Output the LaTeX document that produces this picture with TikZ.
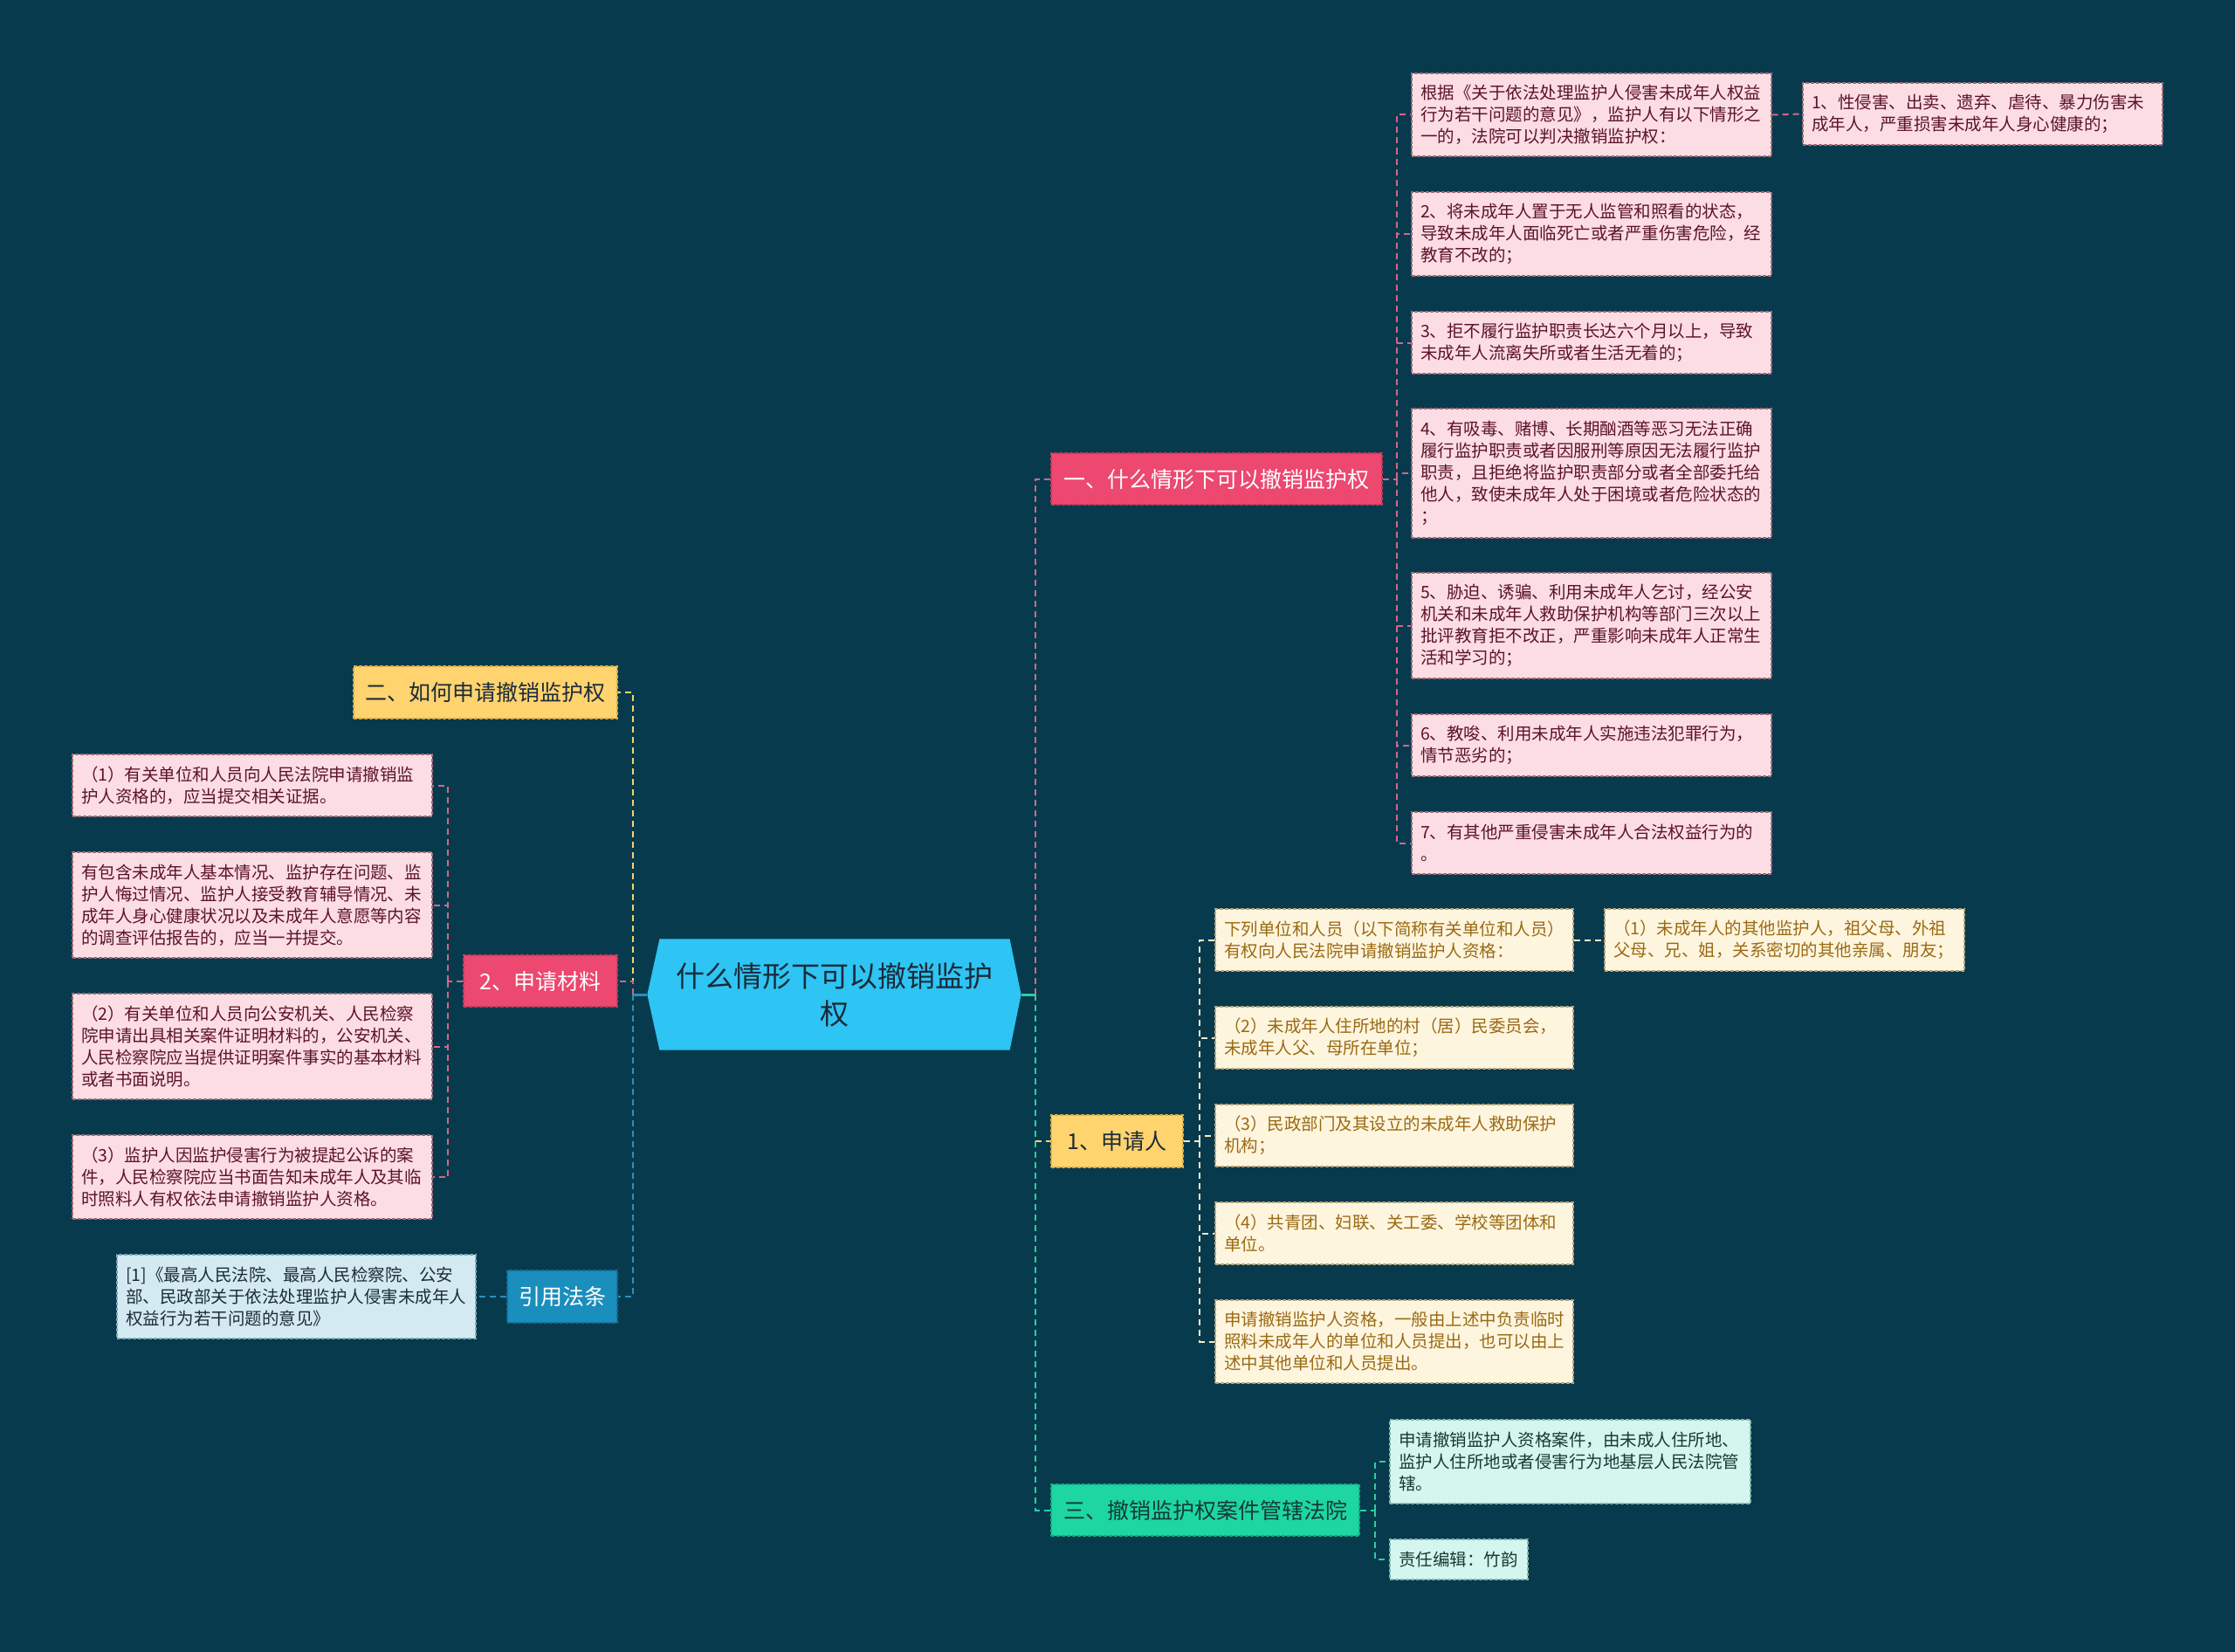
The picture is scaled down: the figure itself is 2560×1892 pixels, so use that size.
\documentclass[tikz,border=0pt]{standalone}
\usepackage{fontspec}
\newfontfamily\cjk{Noto Sans CJK SC}
\usetikzlibrary{calc,backgrounds}
\definecolor{bg}{HTML}{083A4D}
\definecolor{rootc}{HTML}{2EC4F3}
\definecolor{rootT}{HTML}{1B2B3A}
\definecolor{pkMain}{HTML}{EC4870}
\definecolor{pkMainB}{HTML}{C23A5C}
\definecolor{ylMain}{HTML}{FFD36E}
\definecolor{ylMainB}{HTML}{D6AC48}
\definecolor{grMain}{HTML}{1DD6A2}
\definecolor{grMainB}{HTML}{16A981}
\definecolor{blMain}{HTML}{1A8EBC}
\definecolor{blMainB}{HTML}{136E92}
\definecolor{pkL}{HTML}{FCDDE3}
\definecolor{pkLb}{HTML}{9E6B78}
\definecolor{pkT}{HTML}{5C1428}
\definecolor{ylL}{HTML}{FEF5DF}
\definecolor{ylLb}{HTML}{B5A47A}
\definecolor{ylT}{HTML}{9A6A12}
\definecolor{grL}{HTML}{D4F6EE}
\definecolor{grLb}{HTML}{7FB8A8}
\definecolor{grT}{HTML}{163A33}
\definecolor{blL}{HTML}{D4EAF2}
\definecolor{blLb}{HTML}{7EA8B8}
\definecolor{blT}{HTML}{1C2C38}
\definecolor{pkLine}{HTML}{D4668A}
\definecolor{ylLine}{HTML}{F2D56E}
\definecolor{ylLeafLine}{HTML}{F5EBC8}
\definecolor{grLine}{HTML}{2ACF9F}
\definecolor{blLine}{HTML}{2C8EBB}
\tikzset{
  box/.style={rectangle, inner sep=0pt, line width=1.2pt, dash pattern=on 4pt off 2pt},
  leaf/.style={box, inner xsep=10pt, align=left, font=\cjk\fontsize{19.5}{25}\selectfont},
  pinkleaf/.style={leaf, fill=pkL, draw=pkLb, text=pkT},
  yellowleaf/.style={leaf, fill=ylL, draw=ylLb, text=ylT},
  greenleaf/.style={leaf, fill=grL, draw=grLb, text=grT},
  blueleaf/.style={leaf, fill=blL, draw=blLb, text=blT},
  mainbox/.style={box, font=\cjk\fontsize{25}{30}\selectfont, align=center},
  pinkmain/.style={mainbox, fill=pkMain, draw=pkMainB, text=white},
  yellowmain/.style={mainbox, fill=ylMain, draw=ylMainB, text=rootT},
  greenmain/.style={mainbox, fill=grMain, draw=grMainB, text=grT},
  bluemain/.style={mainbox, fill=blMain, draw=blMainB, text=white},
  conn/.style={line width=2pt, dash pattern=on 7pt off 5pt},
  pinkconn/.style={conn, draw=pkLine},
  yellowconn/.style={conn, draw=ylLine},
  creamconn/.style={conn, draw=ylLeafLine},
  greenconn/.style={conn, draw=grLine},
  blueconn/.style={conn, draw=blLine},
}
\begin{document}
\begin{tikzpicture}[x=1pt,y=-1pt]
\useasboundingbox (0,0) rectangle (2560,1892);

% root
\node[box, minimum width=427pt, minimum height=126pt, align=center, text=rootT,
      font=\cjk\fontsize{33}{43}\selectfont] (root) at (955.5,1139) {什么情形下可以撤销监护\\权};

% main branches
\node[pinkmain, minimum width=379pt, minimum height=59pt] (b1) at (1393.5,548.5) {一、什么情形下可以撤销监护权};
\node[yellowmain, minimum width=151pt, minimum height=60pt] (s1) at (1279.5,1307) {1、申请人};
\node[greenmain, minimum width=353pt, minimum height=59pt] (g3) at (1380.5,1729.5) {三、撤销监护权案件管辖法院};
\node[yellowmain, minimum width=302pt, minimum height=60pt] (h2) at (556,793) {二、如何申请撤销监护权};
\node[pinkmain, minimum width=176pt, minimum height=59pt] (m2) at (619,1123.5) {2、申请材料};
\node[bluemain, minimum width=126pt, minimum height=60pt] (cl) at (644,1485) {引用法条};

% right pink leaves
\node[pinkleaf, text width=392pt, minimum height=95pt] (pA) at (1823,131.5) {根据《关于依法处理监护人侵害未成年人权益\\行为若干问题的意见》，监护人有以下情形之\\一的，法院可以判决撤销监护权：};
\node[pinkleaf, text width=392pt, minimum height=71pt] (pA1) at (2271,130.5) {1、性侵害、出卖、遗弃、虐待、暴力伤害未\\成年人，严重损害未成年人身心健康的；};
\node[pinkleaf, text width=392pt, minimum height=96pt] (p2) at (1823,268) {2、将未成年人置于无人监管和照看的状态，\\导致未成年人面临死亡或者严重伤害危险，经\\教育不改的；};
\node[pinkleaf, text width=392pt, minimum height=71pt] (p3) at (1823,392.5) {3、拒不履行监护职责长达六个月以上，导致\\未成年人流离失所或者生活无着的；};
\node[pinkleaf, text width=392pt, minimum height=148pt] (p4) at (1823,542) {4、有吸毒、赌博、长期酗酒等恶习无法正确\\履行监护职责或者因服刑等原因无法履行监护\\职责，且拒绝将监护职责部分或者全部委托给\\他人，致使未成年人处于困境或者危险状态的\\；};
\node[pinkleaf, text width=392pt, minimum height=121pt] (p5) at (1823,716.5) {5、胁迫、诱骗、利用未成年人乞讨，经公安\\机关和未成年人救助保护机构等部门三次以上\\批评教育拒不改正，严重影响未成年人正常生\\活和学习的；};
\node[pinkleaf, text width=392pt, minimum height=71pt] (p6) at (1823,853.5) {6、教唆、利用未成年人实施违法犯罪行为，\\情节恶劣的；};
\node[pinkleaf, text width=392pt, minimum height=71pt] (p7) at (1823,965.5) {7、有其他严重侵害未成年人合法权益行为的\\。};

% yellow leaves
\node[yellowleaf, text width=390pt, minimum height=71pt] (y0) at (1597,1076.5) {下列单位和人员（以下简称有关单位和人员）\\有权向人民法院申请撤销监护人资格：};
\node[yellowleaf, text width=392pt, minimum height=71pt] (y1) at (2044,1076.5) {（1）未成年人的其他监护人，祖父母、外祖\\父母、兄、姐，关系密切的其他亲属、朋友；};
\node[yellowleaf, text width=390pt, minimum height=71pt] (y2) at (1597,1188.5) {（2）未成年人住所地的村（居）民委员会，\\未成年人父、母所在单位；};
\node[yellowleaf, text width=390pt, minimum height=71pt] (y3) at (1597,1300.5) {（3）民政部门及其设立的未成年人救助保护\\机构；};
\node[yellowleaf, text width=390pt, minimum height=71pt] (y4) at (1597,1412.5) {（4）共青团、妇联、关工委、学校等团体和\\单位。};
\node[yellowleaf, text width=390pt, minimum height=95pt] (y5) at (1597,1536.5) {申请撤销监护人资格，一般由上述中负责临时\\照料未成年人的单位和人员提出，也可以由上\\述中其他单位和人员提出。};

% green leaves
\node[greenleaf, text width=393pt, minimum height=96pt] (gA) at (1798.5,1674) {申请撤销监护人资格案件，由未成人住所地、\\监护人住所地或者侵害行为地基层人民法院管\\辖。};
\node[greenleaf, text width=138pt, minimum height=46pt] (gB) at (1671,1786) {责任编辑：竹韵};

% left pink leaves
\node[pinkleaf, text width=392pt, minimum height=71pt] (l1) at (289,899.5) {（1）有关单位和人员向人民法院申请撤销监\\护人资格的，应当提交相关证据。};
\node[pinkleaf, text width=392pt, minimum height=121pt] (l2) at (289,1036.5) {有包含未成年人基本情况、监护存在问题、监\\护人悔过情况、监护人接受教育辅导情况、未\\成年人身心健康状况以及未成年人意愿等内容\\的调查评估报告的，应当一并提交。};
\node[pinkleaf, text width=392pt, minimum height=121pt] (l3) at (289,1198.5) {（2）有关单位和人员向公安机关、人民检察\\院申请出具相关案件证明材料的，公安机关、\\人民检察院应当提供证明案件事实的基本材料\\或者书面说明。};
\node[pinkleaf, text width=392pt, minimum height=96pt] (l4) at (289,1348) {（3）监护人因监护侵害行为被提起公诉的案\\件，人民检察院应当书面告知未成年人及其临\\时照料人有权依法申请撤销监护人资格。};

% citation leaf
\node[blueleaf, text width=391pt, minimum height=96pt] (ct) at (339.5,1485) {[1]《最高人民法院、最高人民检察院、公安\\部、民政部关于依法处理监护人侵害未成年人\\权益行为若干问题的意见》};

% junction coordinates
\coordinate (rR) at (1186,1139);
\coordinate (rL) at (725,1139);
\coordinate (jP) at (1600,548.5);
\coordinate (jY) at (1374,1307);
\coordinate (jG) at (1575,1729.5);
\coordinate (jM) at (513,1123.5);

\begin{scope}[on background layer]
  \fill[bg] (0,0) rectangle (2560,1892);
  \fill[rootc] (root.west) -- ($(root.north west)+(14,0)$) -- ($(root.north east)+(-13,0)$)
     -- (root.east) -- ($(root.south east)+(-13,0)$) -- ($(root.south west)+(14,0)$) -- cycle;

  % right side of root
  \draw[line width=3pt, grLine] (root.east) -- (rR);
  \draw[yellowconn] (rR) |- (s1.west);
  \draw[pinkconn] (rR) |- (b1.west);
  \draw[greenconn] (rR) |- (g3.west);
  % left side of root
  \draw[line width=3pt, blLine] (root.west) -- (rL);
  \draw[yellowconn] (rL) |- (h2.east);
  \draw[pinkconn] (rL) |- (m2.east);
  \draw[blueconn] (rL) |- (cl.east);

  % branch 一
  \draw[pinkconn] (b1.east) -- (jP);
  \foreach \n in {pA,p2,p3,p4,p5,p6,p7} \draw[pinkconn] (jP) |- (\n.west);
  \draw[pinkconn] (pA.east) -- (pA1.west);

  % branch 1、申请人
  \draw[creamconn] (s1.east) -- (jY);
  \foreach \n in {y0,y2,y3,y4,y5} \draw[creamconn] (jY) |- (\n.west);
  \draw[creamconn] (y0.east) -- (y1.west);

  % branch 三
  \draw[greenconn] (g3.east) -- (jG);
  \foreach \n in {gA,gB} \draw[greenconn] (jG) |- (\n.west);

  % branch 2、申请材料
  \draw[pinkconn] (m2.west) -- (jM);
  \foreach \n in {l1,l2,l3,l4} \draw[pinkconn] (jM) |- (\n.east);

  % citation
  \draw[blueconn] (cl.west) -- (ct.east);
\end{scope}
\end{tikzpicture}
\end{document}
